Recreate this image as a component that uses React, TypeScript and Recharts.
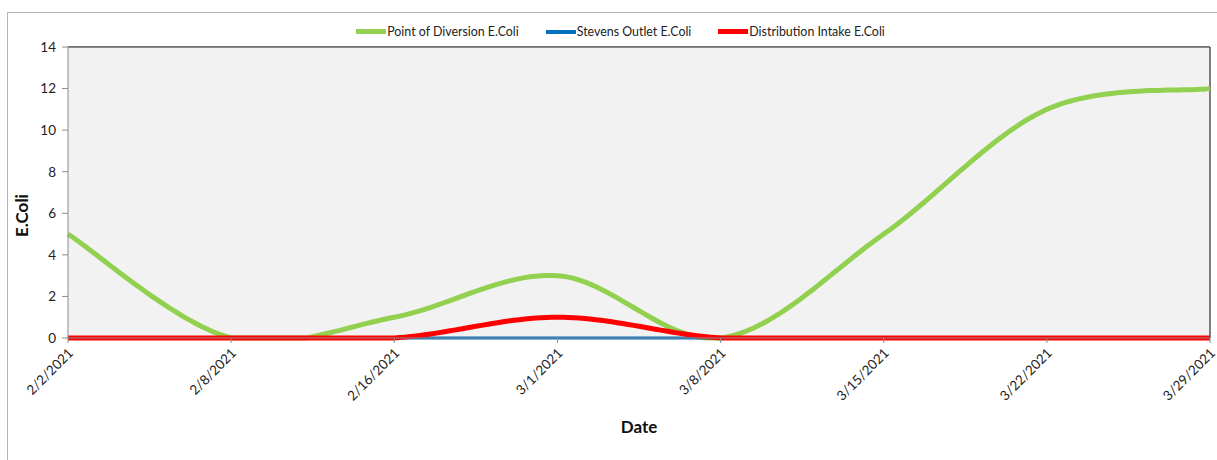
import { LineChart, Line, XAxis, YAxis, CartesianGrid, ReferenceArea, ReferenceLine } from 'recharts'

const DATES = ['2/2/2021', '2/8/2021', '2/16/2021', '3/1/2021', '3/8/2021', '3/15/2021', '3/22/2021', '3/29/2021']
const DIVERSION = [5, 0, 1, 3, 0, 5, 11, 12]
const STEVENS = [0, 0, 0, 0, 0, 0, 0, 0]
const INTAKE = [0, 0, 0, 1, 0, 0, 0, 0]
const Y_TICKS = [0, 2, 4, 6, 8, 10, 12, 14]

const SERIES = [
  { key: 'diversion', name: 'Point of Diversion E.Coli', color: '#92d050', width: 5 },
  { key: 'stevens', name: 'Stevens Outlet E.Coli', color: '#0070c0', width: 3 },
  { key: 'intake', name: 'Distribution Intake E.Coli', color: '#ff0000', width: 5 },
]

const data = DATES.map((d, i) => ({
  date: d,
  diversion: DIVERSION[i],
  stevens: STEVENS[i],
  intake: INTAKE[i],
}))

const FONT = 'Lato, "Open Sans", sans-serif'

// Excel-style smoothing (Bezier, 1/6 of neighbour difference), kept from dipping below the lowest point
function excelSmooth(context: any) {
  let pts: number[][] = []
  return {
    areaStart() {},
    areaEnd() {},
    lineStart() {
      pts = []
    },
    point(x: number, y: number) {
      pts.push([+x, +y])
    },
    lineEnd() {
      const n = pts.length
      if (!n) return
      const maxY = Math.max(...pts.map(p => p[1]))
      context.moveTo(pts[0][0], pts[0][1])
      for (let i = 0; i < n - 1; i++) {
        const p0 = pts[Math.max(i - 1, 0)]
        const p1 = pts[i]
        const p2 = pts[i + 1]
        const p3 = pts[Math.min(i + 2, n - 1)]
        const c1 = [p1[0] + (p2[0] - p0[0]) / 6, p1[1] + (p2[1] - p0[1]) / 6]
        const c2 = [p2[0] - (p3[0] - p1[0]) / 6, p2[1] - (p3[1] - p1[1]) / 6]
        const steps = 30
        for (let s = 1; s <= steps; s++) {
          const t = s / steps
          const u = 1 - t
          const x = u * u * u * p1[0] + 3 * u * u * t * c1[0] + 3 * u * t * t * c2[0] + t * t * t * p2[0]
          const y = u * u * u * p1[1] + 3 * u * u * t * c1[1] + 3 * u * t * t * c2[1] + t * t * t * p2[1]
          context.lineTo(x, Math.min(y, maxY))
        }
      }
    },
  }
}

function DateTick(props: any) {
  const { x, y, payload } = props
  return (
    <g transform={`translate(${x + 6},${y + 9})`}>
      <text transform="rotate(-45)" textAnchor="end" fontSize={13.5} fill="#222" fontFamily={FONT}>
        {payload.value}
      </text>
    </g>
  )
}

function YTitle(props: any) {
  const { viewBox } = props
  const cy = viewBox.y + viewBox.height / 2 + 23
  return (
    <text
      x={28}
      y={cy}
      transform={`rotate(-90, 28, ${cy})`}
      textAnchor="middle"
      fontSize={17}
      fontWeight={700}
      fill="#111"
      fontFamily={FONT}
    >
      E.Coli
    </text>
  )
}

export default function App() {
  return (
    <div style={{ position: 'absolute', left: 0, top: 0, width: 1217, height: 460, background: '#fff', overflow: 'hidden' }}>
      <div
        style={{
          position: 'absolute',
          left: 7,
          top: 12,
          width: 1230,
          height: 470,
          border: '1px solid #b4b4b4',
        }}
      />
      <div
        style={{
          position: 'absolute',
          top: 24,
          left: 0,
          width: 1217,
          display: 'flex',
          justifyContent: 'center',
          gap: 27,
          fontFamily: FONT,
          fontSize: 12.4,
          color: '#222',
          paddingLeft: 24,
          boxSizing: 'border-box',
        }}
      >
        {SERIES.map(s => (
          <div key={s.key} style={{ display: 'flex', alignItems: 'center' }}>
            <span style={{ display: 'inline-block', width: 30, height: s.width === 3 ? 4 : 5, background: s.color, marginRight: 1 }} />
            <span>{s.name}</span>
          </div>
        ))}
      </div>
      <div style={{ position: 'absolute', left: 0, top: 0 }}>
        <LineChart width={1217} height={460} data={data} margin={{ top: 47, right: 7, left: 8, bottom: 22 }}>
          <ReferenceArea y1={0} y2={14} fill="#f2f2f2" fillOpacity={1} stroke="none" />
          <CartesianGrid vertical={false} stroke="#8c8c8c" strokeWidth={1} />
          <XAxis
            dataKey="date"
            height={100}
            tick={<DateTick />}
            tickSize={5}
            interval={0}
            stroke="#8c8c8c"
            tickLine={{ stroke: '#8c8c8c' }}
            label={{ value: 'Date', position: 'insideBottom', offset: 5, fontSize: 17, fontWeight: 700, fill: '#111', fontFamily: FONT }}
          />
          <YAxis
            width={60}
            domain={[0, 14]}
            ticks={Y_TICKS}
            interval={0}
            tickSize={6}
            tickMargin={6}
            stroke="#8c8c8c"
            tick={{ fontSize: 13.5, fill: '#222', fontFamily: FONT }}
            label={<YTitle />}
          />
          <ReferenceLine y={14} stroke="#222" strokeWidth={1} />
          <ReferenceLine x="3/29/2021" stroke="#555" strokeWidth={1.5} />
          {SERIES.map(s => (
            <Line
              key={s.key}
              dataKey={s.key}
              name={s.name}
              type={excelSmooth as any}
              stroke={s.color}
              strokeWidth={s.width}
              dot={false}
              activeDot={false}
              isAnimationActive={false}
            />
          ))}
        </LineChart>
      </div>
    </div>
  )
}
